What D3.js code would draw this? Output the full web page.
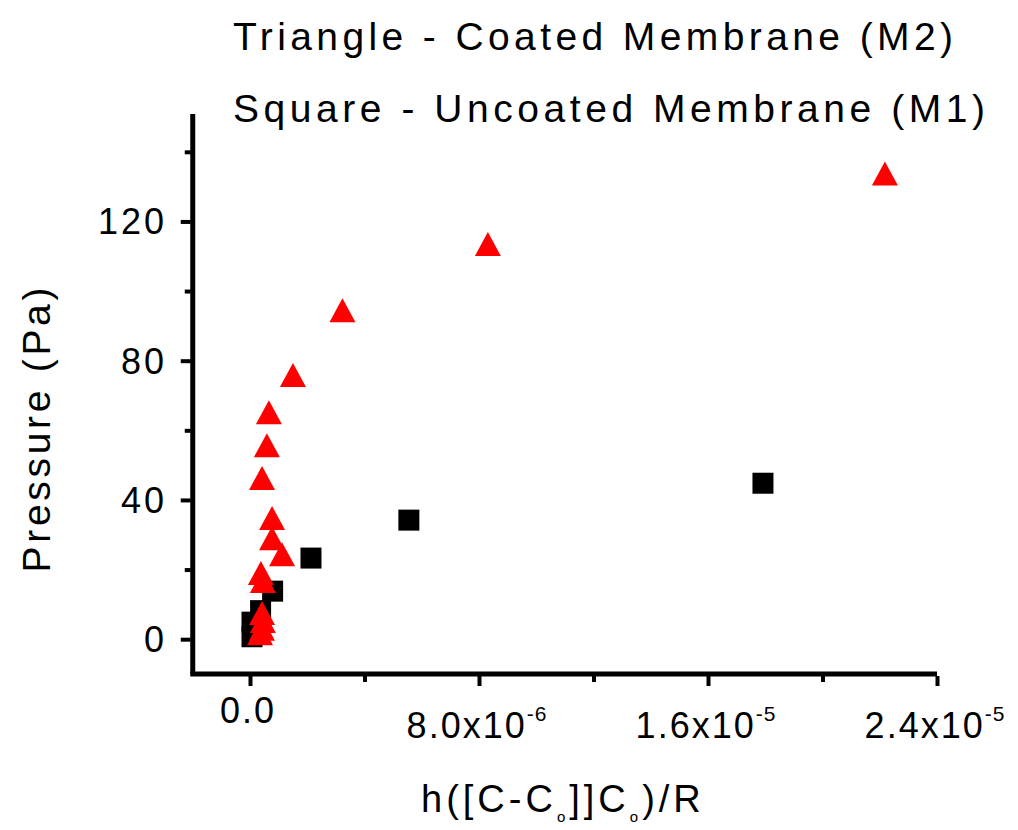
<!DOCTYPE html>
<html>
<head>
<meta charset="utf-8">
<script src="https://cdn.jsdelivr.net/npm/d3@7"></script>
<style>
  body { margin: 0; background: #fff; }
  text { font-family: "Liberation Sans", Arial, sans-serif; fill: #000; }
</style>
</head>
<body>
<div id="chart"></div>
<script>
// M2 - coated membrane (triangles)
var m2X = [2.218e-5, 8.31e-6, 3.23e-6, 1.50e-6, 0.66e-6, 0.59e-6, 0.42e-6, 0.77e-6,
           0.77e-6, 1.12e-6, 0.38e-6, 0.45e-6, 0.42e-6, 0.45e-6, 0.42e-6, 0.35e-6];
var m2Y = [133.8, 113.5, 94.5, 75.9, 65.2, 55.7, 46.3, 34.8,
           29.0, 24.4, 19.0, 16.7, 7.5, 5.2, 3.0, 1.7];

// M1 - uncoated membrane (squares)
var m1X = [1.792e-5, 5.55e-6, 2.13e-6, 0.79e-6, 0.37e-6, 0.07e-6, 0.07e-6];
var m1Y = [44.8, 34.2, 23.3, 13.8, 8.2, 4.9, 0.7];

var xMajor = [0, 8e-6, 1.6e-5, 2.4e-5];
var xMinor = [4e-6, 1.2e-5, 2e-5];
var yMajor = [0, 40, 80, 120];
var yMinor = [20, 60, 100, 140];

var titles = ["Triangle - Coated Membrane (M2)", "Square - Uncoated Membrane (M1)"];

var W = 1018, H = 830;

var svg = d3.select("#chart")
  .append("svg")
  .attr("width", W)
  .attr("height", H);

var x = d3.scaleLinear().domain([-2e-6, 2.4e-5]).range([192.75, 937]);
var y = d3.scaleLinear().domain([-10, 150]).range([674, 117]);

// titles
svg.append("text")
  .attr("x", 233).attr("y", 50)
  .attr("font-size", 39)
  .attr("textLength", 720).attr("lengthAdjust", "spacing")
  .text(titles[0]);
svg.append("text")
  .attr("x", 233).attr("y", 122)
  .attr("font-size", 39)
  .attr("textLength", 752).attr("lengthAdjust", "spacing")
  .text(titles[1]);

// axis lines (left + bottom only)
svg.append("line")
  .attr("x1", x(-2e-6)).attr("x2", x(-2e-6))
  .attr("y1", y(-10)).attr("y2", y(150) - 3)
  .attr("stroke", "#000").attr("stroke-width", 5);
svg.append("line")
  .attr("x1", x(-2e-6) - 2.5).attr("x2", x(2.4e-5))
  .attr("y1", y(-10)).attr("y2", y(-10))
  .attr("stroke", "#000").attr("stroke-width", 5);

var xAxis = d3.axisBottom(x).tickValues(xMajor).tickSize(10).tickFormat("");
var xAxisMinor = d3.axisBottom(x).tickValues(xMinor).tickSize(6).tickFormat("");
var yAxis = d3.axisLeft(y).tickValues(yMajor).tickSize(10).tickFormat("");
var yAxisMinor = d3.axisLeft(y).tickValues(yMinor).tickSize(6).tickFormat("");

function styleAxis(g) {
  g.select(".domain").remove();
  g.selectAll(".tick line").attr("stroke", "#000").attr("stroke-width", 4);
}

svg.append("g").attr("transform", "translate(0," + (y(-10) + 2) + ")").call(xAxis).call(styleAxis);
svg.append("g").attr("transform", "translate(0," + (y(-10) + 2) + ")").call(xAxisMinor).call(styleAxis);
svg.append("g").attr("transform", "translate(" + (x(-2e-6) - 2) + ",0)").call(yAxis).call(styleAxis);
svg.append("g").attr("transform", "translate(" + (x(-2e-6) - 2) + ",0)").call(yAxisMinor).call(styleAxis);

// y tick labels
svg.selectAll(".ylab")
  .data(yMajor)
  .enter().append("text")
  .attr("class", "ylab")
  .attr("x", 167)
  .attr("y", function(d) { return y(d) + 13; })
  .attr("text-anchor", "end")
  .attr("font-size", 36)
  .attr("letter-spacing", 3)
  .text(function(d) { return d; });

// x tick labels, mantissa x 10^exp
svg.selectAll(".xlab")
  .data(xMajor)
  .enter().append("text")
  .attr("class", "xlab")
  .attr("text-anchor", "middle")
  .attr("font-size", 36)
  .attr("letter-spacing", 2)
  .attr("x", function(d) { return x(d) - 2; })
  .attr("y", function(d) { return d === 0 ? 723 : 738; })
  .each(function(d) {
    var t = d3.select(this);
    if (d === 0) { t.text("0.0"); return; }
    var e = Math.floor(Math.log10(d));
    var m = d / Math.pow(10, e);
    t.append("tspan").text(m.toFixed(1) + "x10");
    t.append("tspan").attr("font-size", 21).attr("dy", -17).attr("letter-spacing", 1).text(e);
  });

// axis titles
svg.append("text")
  .attr("transform", "translate(50,430) rotate(-90)")
  .attr("text-anchor", "middle")
  .attr("font-size", 39)
  .attr("textLength", 285).attr("lengthAdjust", "spacing")
  .text("Pressure (Pa)");

var xt = svg.append("text")
  .attr("x", 421).attr("y", 812)
  .attr("font-size", 38)
  .attr("letter-spacing", 4);
xt.append("tspan").text("h([C-C");
xt.append("tspan").attr("font-size", 15).attr("dy", 10).text("o");
xt.append("tspan").attr("dy", -10).text("]]C");
xt.append("tspan").attr("font-size", 15).attr("dy", 10).text("o");
xt.append("tspan").attr("dy", -10).text(")/R");

// squares first, triangles drawn over them
var m1 = m1X.map(function(v, i) { return [v, m1Y[i]]; });
var m2 = m2X.map(function(v, i) { return [v, m2Y[i]]; });

svg.selectAll(".sq")
  .data(m1)
  .enter().append("rect")
  .attr("class", "sq")
  .attr("x", function(d) { return x(d[0]) - 10.5; })
  .attr("y", function(d) { return y(d[1]) - 10.5; })
  .attr("width", 21)
  .attr("height", 21)
  .attr("fill", "#000");

svg.selectAll(".tri")
  .data(m2)
  .enter().append("path")
  .attr("class", "tri")
  .attr("d", function(d) {
    var cx = x(d[0]), cy = y(d[1]);
    var p = d3.path();
    p.moveTo(cx, cy - 12);
    p.lineTo(cx + 13, cy + 12);
    p.lineTo(cx - 13, cy + 12);
    p.closePath();
    return p.toString();
  })
  .attr("fill", "#ff0000");
</script>
</body>
</html>
